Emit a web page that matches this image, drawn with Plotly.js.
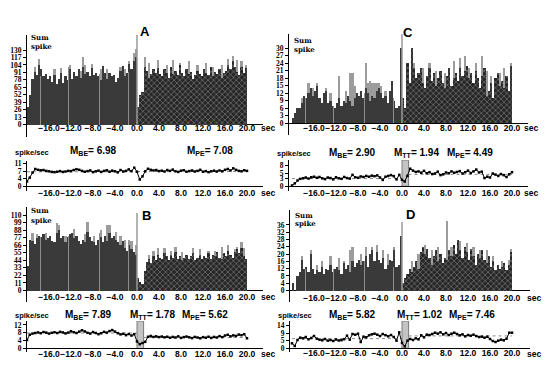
<!DOCTYPE html>
<html><head><meta charset="utf-8">
<script src="https://cdn.plot.ly/plotly-3.0.1.min.js"></script>
<style>html,body{margin:0;padding:0;background:#fff}#chart{width:560px;height:374px}</style>
</head><body><div id="chart"></div>
<script>
// ---------------- DATA ----------------
const binWidth = 0.4;           // histogram bin (sec)
const histStart = -20;          // first bin edge (sec)
const rateStep = 0.5;           // rate sample step (sec)
const rateStart = -20;
const xTickVals = [-16, -12, -8, -4, 0, 4, 8, 12, 16, 20];
const stripeX = [-17.6, -12.4, -6.9, -1.6];   // light separator bins in the pre-stimulus part

// Panel A
const aDark = [30,52,80,92,86,104,96,84,88,80, 84,74,86,70,80,90,72,84,78,96, 80,92,84,96,82,100,88,92,84,98, 86,90,84,78,102,90,80,90,84,86, 74,82,94,102,84,90,106,96,110,118,
               30,52,56,100,94,82,88,96,90,98, 88,84,96,90,82,100,88,94,86,104, 90,84,96,88,92,80,86,94,88,84, 96,90,86,100,84,92,88,96,82,90, 94,104,96,110,100,92,86,100,90,98];
const aLightIdx = [3,5,12,15,19,24,25,26,29,33,36,42,44,46,48,49, 53,55,59,63,66,69,73,77,81,84,88,91,93,95,97,99];
const aLightVal = [100,114,96,98,104,94,118,104,106,96,96,100,96,110,124,132, 118,108,112,104,112,108,110,104,108,100,104,114,120,112,110,104];
const aStripe = [84, 100, 88, 92];
const aRate = [2.4,4.2,6.6,8.3,7.9,7.7,7.8,7.4,7.2,6.9, 6.8,7.0,7.3,6.9,7.1,7.4,7.3,7.8,8.2,7.9, 7.4,7.0,7.3,7.6,6.8,7.2,7.5,6.9,7.4,7.7, 7.0,7.5,7.2,6.7,7.8,7.1,7.4,8.1,7.3,8.9,
               7.0,3.3,4.8,7.2,8.4,7.9,7.6,7.8,7.3,7.5, 7.1,7.8,7.4,8.0,7.2,6.9,7.5,7.7,7.0,7.3, 7.6,7.1,7.4,7.9,7.0,7.3,6.8,7.2,7.5,7.1, 7.6,7.2,7.9,8.3,7.6,8.6,7.9,7.4,7.2,7.7, 7.4];
const aMeans = {BE: 6.98, PE: 7.08};
const aHistTicks = [0,13,26,39,52,65,78,91,104,117,130];
const aRateTicks = [0,4,7,11];

// Panel B
const bDark = [36,74,72,68,76,80,78,82,74,76, 80,72,70,84,88,76,80,70,78,82, 84,76,80,72,68,74,70,86,78,72, 70,66,74,78,70,80,72,84,76,80, 74,70,66,72,62,58,66,60,56,52,
               18,12,10,28,42,46,40,50,44,52, 48,46,54,50,44,52,48,56,46,50, 44,48,52,46,50,54,44,48,52,46, 50,48,54,46,52,50,56,48,46,54, 50,58,52,48,56,60,54,62,50,46];
const bLightIdx = [2,4,8,13,14,17,21,26,27,30,33,36,37,40,42,44,46,47,49, 55,57,59,62,65,67,70,75,78,82,85,88,91,94,95,97,98];
const bLightVal = [84,82,84,98,96,80,90,82,100,80,88,96,96,86,80,74,74,72,66, 52,58,62,62,58,64,56,62,60,58,58,64,66,60,64,70,62];
const bStripe = [78, 80, 84, 70];
const bRate = [4.4,7.0,7.6,7.9,8.2,7.8,8.4,8.1,7.6,8.0, 8.3,7.9,8.5,8.2,7.7,8.1,8.8,8.3,7.9,8.6, 9.3,8.7,8.0,7.6,8.4,7.9,7.3,7.8,8.5,8.1, 8.9,9.4,8.6,7.8,7.2,7.5,6.8,7.4,6.6,7.3,
               3.6,2.2,2.8,3.4,6.0,6.4,5.9,6.2,5.8,6.1, 5.7,6.0,5.5,5.9,5.6,6.2,5.4,5.8,6.1,5.7, 5.3,5.9,5.6,5.2,5.8,5.5,6.0,5.4,5.9,5.6, 6.3,5.8,6.6,7.0,6.2,6.7,6.4,7.1,6.8,7.3, 5.2];
const bMeans = {BE: 7.89, TT: 1.78, PE: 5.62};
const bHistTicks = [0,11,22,33,44,55,66,77,88,99,110];
const bRateTicks = [0,4,8,12];

// Panel C
const cDark = [2,4,6,6,8,11,10,12,14,11, 13,15,10,8,12,13,8,9,7,6, 8,10,7,9,8,11,9,7,10,12, 11,13,10,14,12,9,11,10,13,14, 12,10,11,8,13,17,9,6,7,30,
               10,6,24,16,30,22,18,20,22,16, 14,19,22,17,20,15,18,21,16,14, 19,22,15,18,20,17,22,19,21,23, 18,20,16,21,18,14,19,22,11,13, 16,10,18,20,15,17,14,19,13,23];
const cLightIdx = [4,7,9,11,15,17,21,24,26,27,28,33,34,35,36,37,38,39,40,42, 55,59,62,65,69,73,76,78,80,83,86,88,90,94,96,99];
const cLightVal = [10,16,14,16,14,12,19,13,20,20,15,24,16,17,16,16,16,16,15,13, 24,22,24,21,20,25,26,27,22,24,27,21,19,20,22,24];
const cStripe = [10, 7, 12, 10];
const cRate = [0.3,1.1,2.2,2.8,3.0,3.3,2.9,3.4,3.6,3.2, 3.5,3.0,2.7,3.3,3.1,2.6,3.4,3.0,2.8,3.5, 3.1,2.9,4.3,3.4,3.2,3.7,3.5,3.9,3.6,4.0, 3.8,4.1,3.3,2.4,3.6,3.9,4.2,3.8,2.6,4.3,
               2.4,1.8,3.9,6.6,5.9,5.4,5.6,5.1,5.8,4.9, 5.3,4.6,4.8,5.5,4.2,4.5,5.2,4.9,5.6,5.1, 5.4,5.7,4.8,5.3,5.9,5.0,5.6,6.3,5.2,5.5, 3.1,3.6,3.3,4.8,4.4,3.9,4.6,4.2,3.5,4.5, 5.3];
const cMeans = {BE: 2.90, TT: 1.94, PE: 4.49};
const cHistTicks = [0,3,6,9,12,15,18,21,24,27,30];
const cRateTicks = [0,3,5,8];

// Panel D
const dDark = [4,0,8,10,17,12,13,10,20,12, 9,11,10,13,9,12,11,14,10,12, 13,11,9,15,12,14,10,16,13,15, 17,14,16,19,13,20,22,16,21,17, 15,18,12,14,17,16,22,13,14,30,
               4,7,9,12,10,13,16,12,21,24, 20,23,18,14,19,22,16,20,15,18, 17,22,19,25,20,28,22,18,24,21, 17,23,19,14,20,18,22,17,15,19, 13,16,11,14,12,13,15,11,14,21];
const dLightIdx = [4,8,11,13,17,21,23,26,27,31,33,36,38,41,43,46, 54,57,60,63,66,70,72,76,79,82,85,88,91,95,98,99];
const dLightVal = [19,22,14,16,19,18,16,22,24,20,24,24,25,22,20,24, 16,20,25,22,24,38,24,27,26,24,22,22,19,16,17,23];
const dStripe = [12, 12, 16, 13];
const dRate = [3.0,1.4,5.0,6.4,6.0,6.8,5.4,6.2,7.4,5.8, 5.2,4.8,5.6,4.6,5.0,4.4,5.3,4.7,4.9,5.5, 7.6,5.2,8.6,8.2,8.8,3.8,7.0,6.6,7.8,8.4, 8.8,8.2,7.4,8.6,7.9,7.2,8.0,6.8,4.6,9.6,
               3.2,1.2,4.6,5.6,5.0,6.0,5.4,7.8,6.6,8.2, 8.0,8.6,9.4,8.8,9.6,8.4,9.2,8.0,8.8,9.4, 8.6,7.8,8.4,7.2,8.0,7.6,8.2,7.4,6.8,7.0, 6.4,7.0,5.6,4.4,3.8,4.6,5.2,4.8,5.8,9.4, 9.4];
const dMeans = {BE: 5.82, TT: 1.02, PE: 7.46};
const dHistTicks = [0,4,8,12,16,20,24,28,32,36];
const dRateTicks = [0,5,9,14];

const ttWindow = [0, 1.2];   // shaded transition window (sec)

// ---------------- LAYOUT GEOMETRY (pixels) ----------------
const W = 560, H = 374;
const px = v => v / W, py = v => 1 - v / H;

const panels = [
  {letter:'A', dark:aDark, li:aLightIdx, lv:aLightVal, st:aStripe, rate:aRate, means:aMeans, hT:aHistTicks, rT:aRateTicks,
   x:[27,263], zx:137, h:{top:35,bot:137,zero:124.5,ppu:0.573,lab:121,line:35}, r:{top:161,bot:191,zero:186.5,ppu:2.11,lab:186,title:151},
   letterPos:[145,31], sumPos:[29,37.5,46], secX:259, mx:{BE:68, PE:185}},
  {letter:'B', dark:bDark, li:bLightIdx, lv:bLightVal, st:bStripe, rate:bRate, means:bMeans, hT:bHistTicks, rT:bRateTicks,
   x:[27,263], zx:137, h:{top:207,bot:302,zero:290.5,ppu:0.686,lab:290,line:213}, r:{top:321,bot:352,zero:348.5,ppu:1.96,lab:347,title:314.5},
   letterPos:[146,215], sumPos:[29,210.5,220], secX:259, mx:{BE:63, TT:128, PE:180}},
  {letter:'C', dark:cDark, li:cLightIdx, lv:cLightVal, st:cStripe, rate:cRate, means:cMeans, hT:cHistTicks, rT:cRateTicks,
   x:[289,528], zx:402, h:{top:34,bot:135,zero:123,ppu:2.49,lab:121,line:34}, r:{top:160,bot:191,zero:186.3,ppu:2.66,lab:186,title:152.5},
   letterPos:[408,32], sumPos:[292,40.5,50], secX:522, mx:{BE:327, TT:392, PE:445}},
  {letter:'D', dark:dDark, li:dLightIdx, lv:dLightVal, st:dStripe, rate:dRate, means:dMeans, hT:dHistTicks, rT:dRateTicks,
   x:[290,530], zx:402, h:{top:210,bot:302,zero:290.5,ppu:1.82,lab:291,line:222}, r:{top:321,bot:352,zero:348.3,ppu:1.66,lab:346.5,title:314.5},
   letterPos:[411,214.5], sumPos:[293,215,224], secX:525, mx:{BE:327, TT:395, PE:447}}
];
const pxPerSec = 5.5;

const sansBold = (s) => ({family:'Liberation Sans, Arial, sans-serif', size:s || 8.5, color:'#000000', weight:'bold'});
const serifBold = (s) => ({family:'Liberation Serif, Times New Roman, serif', size:s || 7.5, color:'#000000', weight:'bold'});

const traces = [], layout = {
  width:W, height:H, margin:{l:0,r:0,t:0,b:0}, paper_bgcolor:'#fff', plot_bgcolor:'rgba(0,0,0,0)',
  showlegend:false, barmode:'overlay', bargap:0, shapes:[], annotations:[]
};

const nBins = 100;
const binCenters = Array.from({length:nBins}, (_, i) => histStart + binWidth * (i + 0.5));
const half = nBins / 2;

panels.forEach((p, k) => {
  const hx = 'x' + (2*k+1), hy = 'y' + (2*k+1), rx = 'x' + (2*k+2), ry = 'y' + (2*k+2);
  const hxN = 'xaxis' + (2*k+1), hyN = 'yaxis' + (2*k+1), rxN = 'xaxis' + (2*k+2), ryN = 'yaxis' + (2*k+2);
  const xr = [(p.x[0]-p.zx)/pxPerSec, (p.x[1]-p.zx)/pxPerSec];
  const xAx = (pos) => ({domain:[px(p.x[0]), px(p.x[1])], range:xr, showgrid:false, zeroline:false, showline:false,
     ticks:'', tickvals:xTickVals, tickformat:'.1f', tickfont:sansBold(8.5), tickangle:0, anchor:'free', position:pos, fixedrange:true});
  layout[hxN] = xAx(py(p.h.lab));
  layout[rxN] = xAx(py(p.r.lab));
  const yAx = (g, ticks, anchor) => ({domain:[py(g.bot), py(g.top)], range:[(g.zero-g.bot)/g.ppu, (g.zero-g.top)/g.ppu],
     anchor:anchor, showgrid:false, zeroline:true, zerolinecolor:'#000', zerolinewidth:1, showline:true, linecolor:'#000', linewidth:1,
     ticks:'outside', ticklen:3, tickcolor:'#000', tickvals:ticks, tickfont:serifBold(7.5), fixedrange:true});
  layout[hyN] = yAx(p.h, p.hT, hx);
  layout[ryN] = yAx(p.r, p.rT, rx);

  // light bars (behind)
  traces.push({type:'bar', x:p.li.map(i => binCenters[i]), y:p.lv, width:binWidth, xaxis:hx, yaxis:hy,
    marker:{color:'#9c9c9c', line:{width:0}}, hoverinfo:'skip'});
  // pre-stimulus dark bars
  traces.push({type:'bar', x:binCenters.slice(0, half), y:p.dark.slice(0, half), width:binWidth, xaxis:hx, yaxis:hy,
    marker:{color:'#3a3a3a', line:{width:0}}, hoverinfo:'skip'});
  // post-stimulus cross-hatched bars
  traces.push({type:'bar', x:binCenters.slice(half), y:p.dark.slice(half), width:binWidth, xaxis:hx, yaxis:hy,
    marker:{color:'#262626', line:{width:0}, pattern:{shape:'x', fgcolor:'#6e6e6e', bgcolor:'#262626', size:4, solidity:0.35}}, hoverinfo:'skip'});
  // light separator bins
  traces.push({type:'bar', x:stripeX, y:p.st, width:0.18, xaxis:hx, yaxis:hy,
    marker:{color:'#8e8e8e', line:{width:0}}, hoverinfo:'skip'});
  // stimulus marker
  layout.shapes.push({type:'line', xref:hx, yref:hy, x0:0, x1:0, y0:0, y1:(p.h.zero-p.h.line)/p.h.ppu, line:{color:'#9a9a9a', width:1.5}});

  // rate plot
  const rx0 = p.rate.map((_, i) => rateStart + rateStep*i);
  if (p.means.TT !== undefined) {
    layout.shapes.push({type:'rect', xref:rx, yref:ry, x0:ttWindow[0], x1:ttWindow[1], y0:0, y1:(p.r.zero-p.r.top)/p.r.ppu,
      fillcolor:'#c4c4c4', line:{color:'#7a7a7a', width:1}, layer:'below'});
  }
  const postStart = p.means.TT !== undefined ? ttWindow[1] : 0;
  traces.push({type:'scatter', mode:'lines', x:[rateStart, 0], y:[p.means.BE, p.means.BE], xaxis:rx, yaxis:ry,
    line:{color:'#8a8a8a', width:1, dash:'dot'}, hoverinfo:'skip'});
  traces.push({type:'scatter', mode:'lines', x:[postStart, 20], y:[p.means.PE, p.means.PE], xaxis:rx, yaxis:ry,
    line:{color:'#8a8a8a', width:1, dash:'dot'}, hoverinfo:'skip'});
  traces.push({type:'scatter', mode:'lines+markers', x:rx0, y:p.rate, xaxis:rx, yaxis:ry,
    line:{color:'#000', width:1}, marker:{symbol:'square', size:2.5, color:'#000'}, hoverinfo:'skip'});

  // annotations
  const A = (x, y, text, font, xanchor) => layout.annotations.push({xref:'paper', yref:'paper', x:px(x), y:py(y), text:text,
     showarrow:false, font:font, xanchor:xanchor || 'center', yanchor:'middle'});
  A(p.letterPos[0], p.letterPos[1], p.letter, sansBold(13));
  A(p.sumPos[0], p.sumPos[1], 'Sum', {family:'DejaVu Serif, serif', size:7, color:'black', weight:'bold'}, 'left');
  A(p.sumPos[0], p.sumPos[2], 'spike', {family:'DejaVu Serif, serif', size:7, color:'black', weight:'bold'}, 'left');
  A(p.secX, p.h.lab + 7, 'sec', sansBold(8.5), 'left');
  A(p.secX, p.r.lab + 7, 'sec', sansBold(8.5), 'left');
  A(p.x[0] - 14, p.r.title + 1, 'spike/sec', sansBold(7.5), 'left');
  ['BE','TT','PE'].forEach(key => {
    if (p.means[key] === undefined) return;
    A(p.mx[key], p.r.title, 'M<sub>' + key + '</sub>= ' + p.means[key].toFixed(2), sansBold(10), 'left');
  });
});

Plotly.newPlot('chart', traces, layout, {staticPlot:true, displayModeBar:false});
</script>
</body></html>
